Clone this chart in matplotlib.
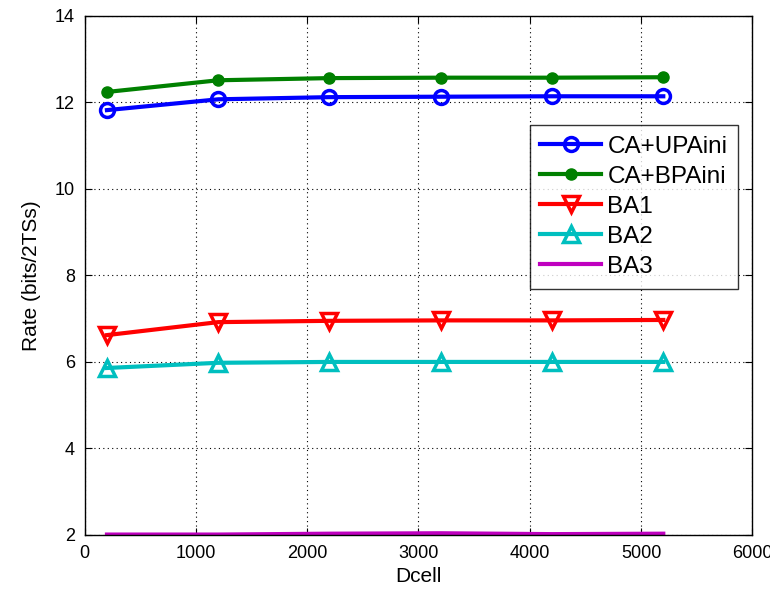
import matplotlib
matplotlib.use("Agg")
import matplotlib.pyplot as plt

plt.rcParams['font.family'] = ['Liberation Sans', 'DejaVu Sans']

dcell = [200, 1200, 2200, 3200, 4200, 5200]
ca_upaini = [11.82, 12.07, 12.12, 12.13, 12.14, 12.14]
ca_bpaini = [12.24, 12.51, 12.56, 12.57, 12.57, 12.58]
ba1 = [6.62, 6.92, 6.95, 6.96, 6.96, 6.97]
ba2 = [5.86, 5.98, 6.0, 6.0, 6.0, 6.0]
ba3 = [2.01, 2.01, 2.03, 2.04, 2.02, 2.03]

xticks = [0, 1000, 2000, 3000, 4000, 5000, 6000]
yticks = [2, 4, 6, 8, 10, 12, 14]

fig = plt.figure(figsize=(7.7, 5.92), dpi=100)
ax = fig.add_axes([0.110, 0.0963, 0.867, 0.877])

lw = 3
ax.plot(dcell, ca_upaini, color='#0000ff', lw=lw, marker='o', ms=10,
        mfc='none', mew=2.5, label='CA+UPAini')
ax.plot(dcell, ca_bpaini, color='#008000', lw=lw, marker='o', ms=8,
        label='CA+BPAini')
ax.plot(dcell, ba1, color='#ff0000', lw=lw, marker='v', ms=11,
        mfc='none', mew=2.5, label='BA1')
ax.plot(dcell, ba2, color='#00bfbf', lw=lw, marker='^', ms=11,
        mfc='none', mew=2.5, label='BA2')
ax.plot(dcell, ba3, color='#bf00bf', lw=lw, label='BA3')

ax.set_xlim(0, 6000)
ax.set_ylim(2, 14)
ax.set_xticks(xticks)
ax.set_yticks(yticks)
ax.tick_params(direction='in', labelsize=13, length=5, top=True, right=True,
               pad=7)
ax.grid(True, color='black', linestyle=(0, (1, 3)), linewidth=0.8)
for s in ax.spines.values():
    s.set_linewidth(1.0)

ax.set_xlabel('Dcell', fontsize=15, labelpad=4)
ax.set_ylabel('Rate (bits/2TSs)', fontsize=15, labelpad=10)

leg = ax.legend(loc='upper right', bbox_to_anchor=(0.979, 0.790),
                fontsize=17.5, frameon=True, fancybox=False, edgecolor='black',
                handlelength=2.5, borderpad=0.45, labelspacing=0.33,
                handletextpad=0.25, borderaxespad=0)
leg.get_frame().set_linewidth(1.0)

fig.savefig('out.png', dpi=100)
